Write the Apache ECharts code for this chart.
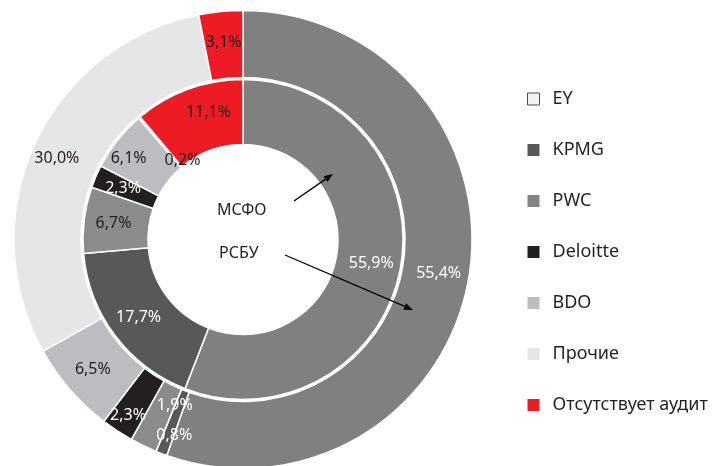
<!DOCTYPE html>
<html>
<head>
<meta charset="utf-8">
<script src="https://cdn.jsdelivr.net/npm/echarts@6/dist/echarts.min.js"></script>
<style>
html,body{margin:0;padding:0;background:#fff;}
#c{width:719px;height:466px;}
</style>
</head>
<body>
<div id="c"></div>
<script>
// Data
const categories = ['PWC', 'KPMG', 'EY', 'Deloitte', 'BDO', 'Прочие', 'Отсутствует аудит'];
const legendOrder = ['EY', 'KPMG', 'PWC', 'Deloitte', 'BDO', 'Прочие', 'Отсутствует аудит'];
const ifrsValues = [55.9, 17.7, 6.7, 2.3, 6.1, 0.2, 11.1];   // МСФО (inner ring)
const rasValues  = [55.4, 0.8, 1.9, 2.3, 6.5, 30.0, 3.1];    // РСБУ (outer ring)
const centerTexts = ['МСФО', 'РСБУ'];

// Styles
const sliceColors = {
  'PWC': '#808080', 'KPMG': '#58585a', 'EY': '#8b8b8e', 'Deloitte': '#231f20',
  'BDO': '#bcbdc0', 'Прочие': '#e5e6e7', 'Отсутствует аудит': '#ed1c24'
};
const legendColors = Object.assign({}, sliceColors, {'EY': '#f2f2f2', 'PWC': '#838386'});
const innerWhite = ['PWC', 'KPMG', 'Deloitte'];
const outerWhite = ['PWC', 'KPMG', 'EY', 'Deloitte'];
const innerShift = {4: [-12, 0], 5: [24, 20], 6: [10, -4]};
const outerShift = {1: [2, 10], 2: [18, -13], 3: [-6, 10], 5: [-6, 2]};

const FONT = '"Noto Sans", "Open Sans", sans-serif';
const fmt = v => v.toFixed(1).replace('.', ',') + '%';

function buildData(values, whiteSet) {
  return categories.map((name, i) => ({
    name: name,
    value: values[i],
    itemStyle: {color: sliceColors[name]},
    label: {color: whiteSet.includes(name) ? '#ffffff' : '#231f20'}
  }));
}

const chart = echarts.init(document.getElementById('c'), null, {renderer: 'canvas'});
const cx = 243, cy = 239.5;

function arrow(x1, y1, x2, y2) {
  const ang = Math.atan2(y2 - y1, x2 - x1);
  const L = 9, W = 3.5;
  const bx = x2 - L * Math.cos(ang), by = y2 - L * Math.sin(ang);
  const px = -Math.sin(ang) * W, py = Math.cos(ang) * W;
  return [
    {type: 'line', shape: {x1: x1, y1: y1, x2: bx, y2: by}, style: {stroke: '#000', lineWidth: 1.3}, z: 10},
    {type: 'polygon', shape: {points: [[x2, y2], [bx + px, by + py], [bx - px, by - py]]}, style: {fill: '#000'}, z: 10}
  ];
}

const option = {
  animation: false,
  backgroundColor: '#ffffff',
  legend: {
    orient: 'vertical',
    left: 522,
    top: 85,
    itemWidth: 12,
    itemHeight: 12,
    itemGap: 33,
    icon: 'rect',
    selectedMode: false,
    textStyle: {fontFamily: FONT, fontSize: 18, color: '#231f20', lineHeight: 18, padding: [0, 0, 0, 8]},
    data: legendOrder.map(n => ({
      name: n,
      itemStyle: n === 'EY'
        ? {color: legendColors[n], borderColor: '#4d4d4d', borderWidth: 1}
        : {color: legendColors[n], borderWidth: 0}
    }))
  },
  graphic: [
    {type: 'text', left: cx - 26, top: 202, style: {text: centerTexts[0], font: '16px ' + FONT, fill: '#231f20'}, z: 10},
    {type: 'text', left: cx - 24, top: 245, style: {text: centerTexts[1], font: '16px ' + FONT, fill: '#231f20'}, z: 10}
  ].concat(arrow(294, 201, 333, 174)).concat(arrow(285, 255, 413, 310)),
  series: [
    {
      name: 'МСФО',
      type: 'pie',
      center: [cx, cy],
      radius: [95, 160],
      startAngle: 90,
      clockwise: true,
      avoidLabelOverlap: false,
      itemStyle: {borderColor: '#ffffff', borderWidth: 1.5},
      label: {show: true, position: 'inside', fontFamily: FONT, fontSize: 16, formatter: p => fmt(p.value)},
      labelLine: {show: false},
      labelLayout: p => {
        const s = innerShift[p.dataIndex];
        return s ? {dx: s[0], dy: s[1]} : {};
      },
      emphasis: {disabled: true},
      data: buildData(ifrsValues, innerWhite)
    },
    {
      name: 'РСБУ',
      type: 'pie',
      center: [cx, cy],
      radius: [162, 229],
      startAngle: 90,
      clockwise: true,
      avoidLabelOverlap: false,
      itemStyle: {borderColor: '#ffffff', borderWidth: 1.5},
      label: {show: true, position: 'inside', fontFamily: FONT, fontSize: 16, formatter: p => fmt(p.value)},
      labelLine: {show: false},
      labelLayout: p => {
        const s = outerShift[p.dataIndex];
        return s ? {dx: s[0], dy: s[1]} : {};
      },
      emphasis: {disabled: true},
      data: buildData(rasValues, outerWhite)
    }
  ]
};
chart.setOption(option);
</script>
</body>
</html>
